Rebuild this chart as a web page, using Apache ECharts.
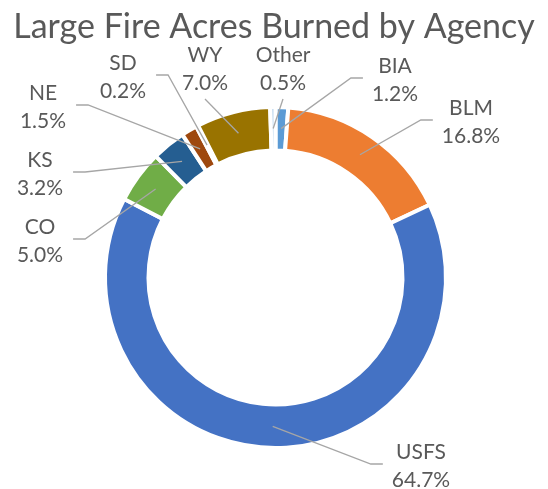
<!DOCTYPE html>
<html>
<head>
<meta charset="utf-8">
<script src="https://cdn.jsdelivr.net/npm/echarts@6/dist/echarts.min.js"></script>
<style>
    html, body { margin: 0; padding: 0; background: #fff; }
    #fire-chart { width: 548px; height: 489px; }
</style>
</head>
<body>
<div id="fire-chart"></div>
<script>
// data (share of acres burned, %)
const agencies = ['BIA', 'BLM', 'USFS', 'CO', 'KS', 'NE', 'SD', 'WY', 'Other'];
const shares = [1.2, 16.8, 64.7, 5.0, 3.2, 1.5, 0.2, 7.0, 0.5];
const sliceColors = ['#5B9BD5', '#ED7D31', '#4472C4', '#70AD47', '#255E91', '#9E480E', '#636363', '#997300', '#BDD7EE'];

// ring geometry (px)
const CX = 275.5, CY = 277.5;
const R_IN = 127, R_OUT = 170.5, R_MID = 149;

// where each label block sits and which side its leader line joins
const labelSpots = {
    BIA: [395, 80, 'right'],
    BLM: [471, 122, 'right'],
    USFS: [421, 466, 'right'],
    CO: [40, 241, 'left'],
    KS: [40, 174, 'left'],
    NE: [43, 107, 'left'],
    SD: [123, 77, 'left'],
    WY: [205, 69, 'top'],
    Other: [283, 69, 'top']
};

const fire = document.getElementById('fire-chart');
const fire_chart = echarts.init(fire);

const textColor = '#595959';
const fontFamily = 'Lato, "Open Sans", sans-serif';

const sliceData = agencies.map(function (name, i) {
    return {
        name: name,
        value: shares[i],
        itemStyle: { color: sliceColors[i] }
    };
});

let optionFire;

optionFire = {
    animation: false,
    title: {
        text: 'Large Fire Acres Burned by Agency',
        left: 'center',
        top: 5,
        textStyle: {
            color: textColor,
            fontFamily: fontFamily,
            fontWeight: 'normal',
            fontSize: 34
        }
    },
    series: [{
            // the visible ring
            type: 'pie',
            z: 2,
            center: [CX, CY],
            radius: [R_IN, R_OUT],
            startAngle: 90,
            clockwise: true,
            silent: true,
            itemStyle: {
                borderColor: '#fff',
                borderWidth: 4
            },
            label: {
                show: false
            },
            labelLine: {
                show: false
            },
            data: sliceData
        },

        {
            // same slices, transparent, carrying labels and leader lines on top
            type: 'pie',
            z: 3,
            center: [CX, CY],
            radius: [R_IN, R_OUT],
            startAngle: 90,
            clockwise: true,
            silent: true,
            avoidLabelOverlap: false,
            itemStyle: {
                color: 'rgba(0,0,0,0)',
                borderWidth: 0
            },
            label: {
                show: true,
                position: 'outside',
                color: textColor,
                fontFamily: fontFamily,
                fontSize: 21,
                lineHeight: 28,
                formatter: function (p) {
                    return p.name + '\n' + p.value.toFixed(1) + '%';
                }
            },
            labelLine: {
                show: true,
                smooth: false,
                lineStyle: {
                    color: '#A6A6A6',
                    width: 1.3
                }
            },
            labelLayout: function (params) {
                const name = agencies[params.dataIndex];
                const spot = labelSpots[name];
                const w = params.labelRect.width;
                const h = params.labelRect.height;
                const x = spot[0], y = spot[1];
                // start the leader line in the middle of the ring
                const p = params.labelLinePoints[0];
                const k = R_MID / R_OUT;
                const start = [CX + (p[0] - CX) * k, CY + (p[1] - CY) * k];
                let end, elbow;
                if (spot[2] === 'right') {
                    end = [x - w / 2 - 9, y - 2];
                    elbow = [end[0] - 12, end[1]];
                } else if (spot[2] === 'left') {
                    end = [x + w / 2 + 10, y - 2];
                    elbow = [end[0] + 12, end[1]];
                } else {
                    end = [x, y + h / 2 + 2];
                    elbow = end;
                }
                return {
                    x: x,
                    y: y,
                    align: 'center',
                    verticalAlign: 'middle',
                    labelLinePoints: [start, elbow, end]
                };
            },
            data: shares.map(function (v, i) {
                return { name: agencies[i], value: v };
            })
        }
    ]
};

if (optionFire && typeof optionFire === 'object') {
    fire_chart.setOption(optionFire);
}
</script>
</body>
</html>
